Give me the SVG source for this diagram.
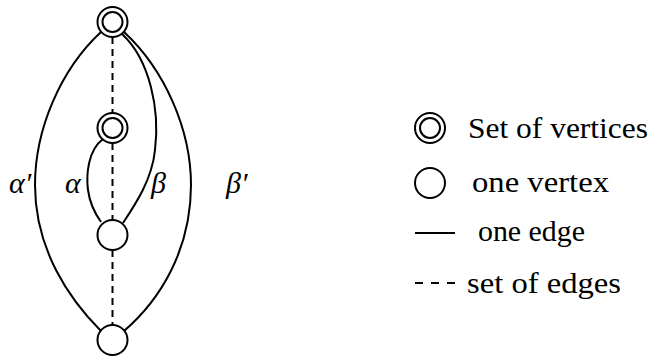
<svg xmlns="http://www.w3.org/2000/svg" width="659" height="359" viewBox="0 0 659 359">
<style>
.e{fill:none;stroke:#000;stroke-width:2}
.d{fill:none;stroke:#000;stroke-width:2;stroke-dasharray:7 5}
.n{fill:none;stroke:#000;stroke-width:2}
</style>
<rect width="659" height="359" fill="#fff"/>
<g id="connectors">
<line class="d" x1="112.5" y1="37" x2="112.5" y2="113"/>
<line class="d" x1="112.5" y1="143" x2="112.5" y2="220"/>
<line class="d" x1="112.5" y1="250" x2="112.5" y2="325"/>
<path id="alpha-prime" class="e" d="M101,32 C60,70 35,130 35,185 C35,250 70,300 101,331"/>
<path id="beta-prime" class="e" d="M124,32 C165,70 191,130 191,185 C191,250 160,300 124,331"/>
<path id="beta" class="e" d="M122,34 C150,60 160,110 155,150 C152,180 135,205 123,223"/>
<path id="alpha" class="e" d="M103,139 C88,150 86,175 88,190 C90,205 96,215 101,222"/>
</g>
<g id="node-top"><circle class="n" cx="112.5" cy="22" r="15"/><circle class="n" cx="112.5" cy="22" r="10"/></g>
<g id="node-mid"><circle class="n" cx="112.5" cy="128" r="15"/><circle class="n" cx="112.5" cy="128" r="10"/></g>
<g id="node-3"><circle class="n" cx="112.5" cy="235" r="15"/></g>
<g id="node-bottom"><circle class="n" cx="112.5" cy="340" r="15"/></g>
<g id="labels" font-family="'Liberation Serif','DejaVu Serif',serif" font-style="italic" font-size="30">
<text x="9" y="193">α′</text>
<text x="65" y="193">α</text>
<text x="151" y="193">β</text>
<text x="226" y="193">β′</text>
</g>
<g id="legend" font-family="'Liberation Serif','DejaVu Serif',serif" font-size="30">
<circle class="n" cx="430" cy="128" r="15"/><circle class="n" cx="430" cy="128" r="10"/>
<text x="468" y="138" textLength="180" lengthAdjust="spacingAndGlyphs">Set of vertices</text>
<circle class="n" cx="430" cy="183" r="15"/>
<text x="472" y="192" textLength="137" lengthAdjust="spacingAndGlyphs">one vertex</text>
<line class="e" x1="415" y1="233" x2="455" y2="233"/>
<text x="478" y="241" textLength="107" lengthAdjust="spacingAndGlyphs">one edge</text>
<line class="e" x1="415" y1="283" x2="455" y2="283" style="stroke-dasharray:8 8"/>
<text x="467" y="293" textLength="154" lengthAdjust="spacingAndGlyphs">set of edges</text>
</g>
</svg>
